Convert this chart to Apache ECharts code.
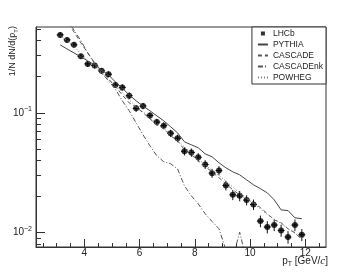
<!DOCTYPE html>
<html><head><meta charset="utf-8">
<script src="https://cdn.jsdelivr.net/npm/echarts@6/dist/echarts.min.js"></script>
<style>html,body{margin:0;padding:0;background:#fff}#c{width:363px;height:275px}</style>
</head><body><div id="c"></div>
<script>
// bin centers (pT, GeV/c)
var ptBins = [3.125,3.375,3.625,3.875,4.125,4.375,4.625,4.875,5.125,5.375,5.625,5.875,6.125,6.375,6.625,6.875,7.125,7.375,7.625,7.875,8.125,8.375,8.625,8.875,9.125,9.375,9.625,9.875,10.125,10.375,10.625,10.875,11.125,11.375,11.625,11.875];
var binHalfWidth = 0.125;
var lhcb = [0.447,0.406,0.369,0.297,0.256,0.248,0.224,0.210,0.171,0.163,0.139,0.109,0.114,0.095,0.0837,0.0782,0.0675,0.0613,0.0478,0.0467,0.0426,0.0371,0.0314,0.0330,0.0248,0.0207,0.0203,0.0187,0.0172,0.0125,0.01116,0.0116,0.01045,0.0092,0.0116,0.00962];
var lhcbErr = [0.025,0.022,0.020,0.016,0.014,0.014,0.012,0.012,0.010,0.010,0.009,0.007,0.007,0.006,0.0055,0.0052,0.0047,0.0044,0.0037,0.0037,0.0035,0.0031,0.0027,0.0029,0.0023,0.0020,0.0020,0.0018,0.0017,0.0014,0.0013,0.0013,0.0012,0.0011,0.0013,0.0011];
var pythia = [0.369,0.341,0.316,0.293,0.271,0.251,0.228,0.207,0.181,0.161,0.141,0.126,0.114,0.104,0.0944,0.0858,0.0765,0.0681,0.0573,0.0541,0.0511,0.0455,0.0430,0.0383,0.0348,0.0322,0.0304,0.0276,0.0251,0.0233,0.0215,0.0188,0.0155,0.0153,0.0133,0.0131];
var cascade = [0.69,0.573,0.473,0.383,0.316,0.261,0.224,0.192,0.165,0.141,0.121,0.112,0.100,0.0891,0.0794,0.0736,0.0643,0.0585,0.0492,0.0447,0.0398,0.0355,0.0322,0.0287,0.0256,0.0228,0.0207,0.0192,0.0178,0.0162,0.0144,0.0128,0.0121,0.0108,0.0100,0.00874];
var cascadeNk = [0.72,0.595,0.49,0.40,0.316,0.256,0.215,0.185,0.158,0.126,0.104,0.0826,0.0656,0.0531,0.0438,0.0391,0.0376,0.0341,0.0246,0.0203,0.0174,0.0144,0.0124,0.0108,0.0072,0.0062,0.0101,0.0058,null,null,null,null,null,null,null,null];
var powheg = [0.44,0.40,0.36,0.31,0.27,0.24,0.213,0.19,0.168,0.147,0.128,0.113,0.102,0.091,0.081,0.074,0.066,0.059,0.052,0.046,0.041,0.037,0.033,0.030,0.027,0.024,0.0215,0.0195,0.0175,0.0158,0.0142,0.0130,0.0119,0.0108,0.0099,0.0090];
var xMinorTicks = [2.5,3,3.5,4.5,5,5.5,6.5,7,7.5,8.5,9,9.5,10.5,11,11.5,12.5];
var xMajorTicks = [4,6,8,10,12];
var yMinorTicks = [0.008,0.009,0.02,0.03,0.04,0.05,0.06,0.07,0.08,0.09,0.2,0.3,0.4,0.5];
var yMajorTicks = [0.01,0.1];

function pairs(v){ return ptBins.map(function(x,i){ return v[i]==null ? [x,null] : [x,v[i]]; }); }

var FONT = 'Liberation Sans';
var ink = '#222';
var chart = echarts.init(document.getElementById('c'), null, {renderer:'canvas'});
var xBase = {type:'value', min:2.25, max:12.75, gridIndex:0, splitLine:{show:false}};
var yBase = {type:'log', logBase:10, min:0.0076, max:0.52, gridIndex:0, splitLine:{show:false}};
var hideSym = {opacity:0};
chart.setOption({
  animation:false,
  grid:{left:36, right:37, top:27, bottom:28, show:true, borderColor:'#333', borderWidth:1, backgroundColor:'transparent'},
  xAxis:[
    Object.assign({}, xBase, {
      axisLine:{show:true, lineStyle:{color:'#333', width:1}},
      axisTick:{show:true, inside:true, length:4, customValues:xMinorTicks, lineStyle:{color:'#333'}},
      axisLabel:{show:true, customValues:xMajorTicks, margin:1, fontFamily:FONT, fontSize:10, color:ink}
    }),
    Object.assign({}, xBase, {
      position:'bottom',
      axisLine:{show:false},
      axisTick:{show:true, inside:true, length:8, customValues:xMajorTicks, lineStyle:{color:'#333'}},
      axisLabel:{show:false}
    })
  ],
  yAxis:[
    Object.assign({}, yBase, {
      axisLine:{show:true, lineStyle:{color:'#333', width:1}},
      axisTick:{show:true, inside:true, length:5, customValues:yMinorTicks, lineStyle:{color:'#333'}},
      axisLabel:{show:true, customValues:yMajorTicks, margin:4, fontFamily:FONT, color:ink,
        formatter:function(v){ var e = Math.round(Math.log10(v)); return '{b|10}{s|' + (e<0?'\u2212':'') + Math.abs(e) + '}'; },
        rich:{b:{fontFamily:FONT, fontSize:10, color:ink}, s:{fontFamily:FONT, fontSize:7, color:ink, padding:[0,0,7,0]}}
      }
    }),
    Object.assign({}, yBase, {
      position:'left',
      axisLine:{show:false},
      axisTick:{show:true, inside:true, length:9, customValues:yMajorTicks, lineStyle:{color:'#333'}},
      axisLabel:{show:false}
    })
  ],
  legend:{
    orient:'vertical', right:37, top:27, padding:[2,3,2,5], itemGap:2, itemWidth:10, itemHeight:9,
    backgroundColor:'#fff', borderColor:'#333', borderWidth:1, borderRadius:0,
    textStyle:{fontFamily:FONT, fontSize:8.5, color:ink},
    data:[
      {name:'LHCb', icon:'path://M0,0L0,0M10,9L10,9M3,2.5L7,2.5L7,6.5L3,6.5Z'},
      {name:'PYTHIA', itemStyle:hideSym},
      {name:'CASCADE', itemStyle:hideSym},
      {name:'CASCADEnk', itemStyle:hideSym},
      {name:'POWHEG', itemStyle:hideSym}
    ]
  },
  series:[
    {name:'PYTHIA', type:'line', data:pairs(pythia), showSymbol:false, symbol:'none', clip:true,
      lineStyle:{color:'#444', width:1, type:'solid'}, itemStyle:{color:'#444'}},
    {name:'CASCADE', type:'line', data:pairs(cascade), showSymbol:false, symbol:'none', clip:true,
      lineStyle:{color:'#555', width:1, type:[4,3]}, itemStyle:{color:'#555'}},
    {name:'CASCADEnk', type:'line', data:pairs(cascadeNk), showSymbol:false, symbol:'none', clip:true, connectNulls:false,
      lineStyle:{color:'#555', width:1, type:[5,2,1,2]}, itemStyle:{color:'#555'}},
    {name:'POWHEG', type:'line', data:pairs(powheg), showSymbol:false, symbol:'none', clip:true,
      lineStyle:{color:'#777', width:1, type:[1,2]}, itemStyle:{color:'#777'}},
    {type:'custom', clip:true, silent:true,
      data: ptBins.map(function(x,i){ return [x, lhcb[i], lhcbErr[i]]; }),
      renderItem:function(params, api){
        var x = api.value(0), y = api.value(1), e = api.value(2);
        var top = api.coord([x, y + e]), bot = api.coord([x, y - e]);
        var l = api.coord([x - binHalfWidth, y]), r = api.coord([x + binHalfWidth, y]);
        return {type:'group', children:[
          {type:'line', shape:{x1:top[0], y1:top[1], x2:bot[0], y2:bot[1]}, style:{stroke:'#111', lineWidth:1}},
          {type:'line', shape:{x1:l[0], y1:l[1], x2:r[0], y2:r[1]}, style:{stroke:'#111', lineWidth:1}}
        ]};
      }
    },
    {name:'LHCb', type:'scatter', data:pairs(lhcb), symbol:'circle', symbolSize:6, clip:true,
      itemStyle:{color:'#000'}}
  ],
  graphic:[
    {type:'text', x:13, y:26, rotation:Math.PI/2,
      style:{text:'1/N dN/d(p{sub|T})', align:'right', verticalAlign:'middle', fontFamily:FONT, fontSize:9, fill:ink,
        rich:{sub:{fontFamily:FONT, fontSize:6, fill:ink, padding:[6,0,0,0]}}}},
    {type:'text', x:328, y:261,
      style:{text:'p{sub|T} [GeV/{i|c}]', align:'right', verticalAlign:'middle', fontFamily:FONT, fontSize:10, fill:ink,
        rich:{sub:{fontFamily:FONT, fontSize:7, fill:ink, padding:[7,0,0,0]}, i:{fontFamily:'Liberation Serif', fontStyle:'italic', fontSize:11, fill:ink}}}}
  ]
});
</script>
</body></html>
